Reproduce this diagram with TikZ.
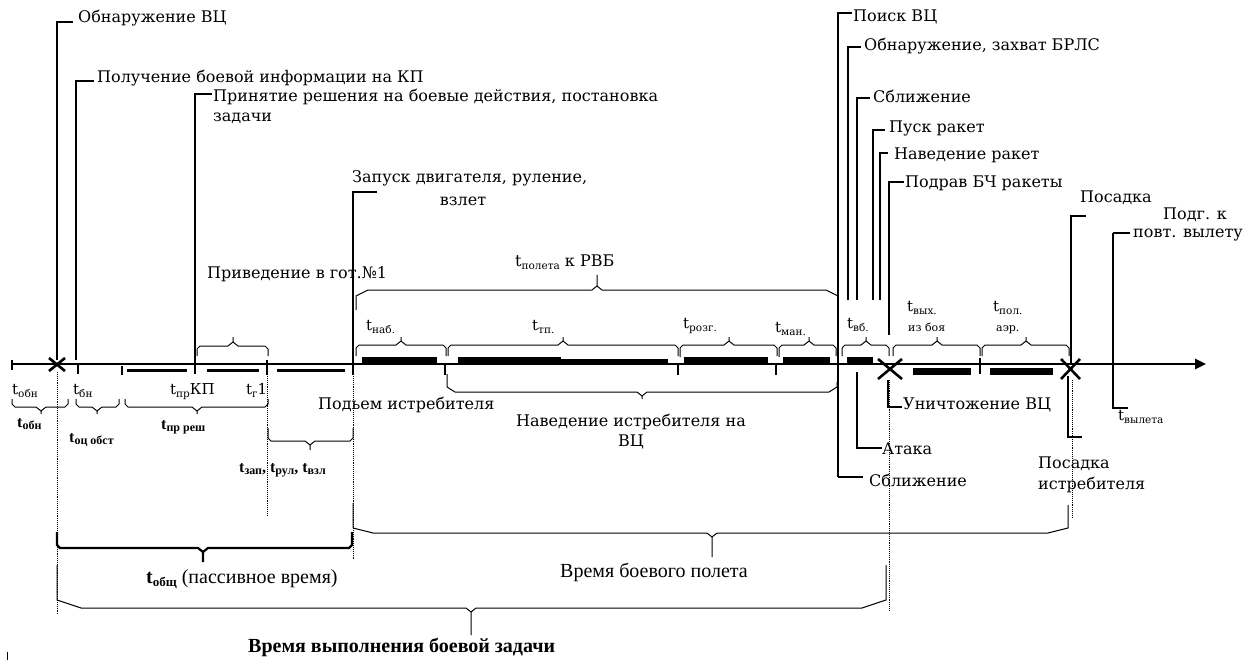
\documentclass[tikz,border=0pt]{standalone}
\usepackage{fontspec}
\setmainfont{DejaVu Serif}
\newfontfamily\tnr{Liberation Serif}
\usetikzlibrary{arrows.meta}
\newcommand\sbx[1]{\raisebox{-0.4ex}{\fontsize{10.5}{11}\selectfont #1}}
\newcommand\bsb[1]{\raisebox{-0.4ex}{\fontsize{12}{12}\selectfont #1}}
% bracket: x1 x2 y yend1 yend2 xtip ytip cornerdx cornerdy
\newcommand\brc[9]{%
 \pgfmathsetmacro\sgA{sign(#4-#3)}%
 \pgfmathsetmacro\sgB{sign(#5-#3)}%
 \draw[brst] (#1,#4) -- (#1,{#3+\sgA*#9}) -- ({#1+#8},#3) -- ({#6-5},#3) -- (#6,{#3-\sgA*4}) -- (#6,#7)
   (#6,{#3-\sgA*4}) -- ({#6+5},#3) -- ({#2-#8},#3) -- (#2,{#3+\sgB*#9}) -- (#2,#5);}
\begin{document}
\begin{tikzpicture}[x=1pt,y=-1pt,line cap=butt,
  lab/.style={inner sep=0pt,anchor=base west,font=\fontsize{16}{18}\selectfont},
  tlab/.style={inner sep=0pt,anchor=base west,font=\fontsize{15}{18}\selectfont},
  blab/.style={inner sep=0pt,anchor=base west,font=\tnr\bfseries\fontsize{16}{18}\selectfont},
  big/.style={inner sep=0pt,anchor=base west,font=\tnr\fontsize{20}{22}\selectfont},
  lead/.style={line width=1.3pt},
  brst/.style={line width=1pt},
  dotl/.style={line width=0.9pt,densely dotted},
  tick/.style={line width=2pt},
  xmark/.style={line width=2.6pt}]
\useasboundingbox (0,0) rectangle (1255,660);

% ---------------- axis ----------------
\coordinate (a0) at (12,364);
\coordinate (a1) at (1206,364);
\draw[line width=2.5pt,-{Triangle[length=11pt,width=10pt]}] (a0) -- (a1);

% ticks on axis
\foreach \x/\ya/\yb in {12/360/370,78/364/374,122/366/375,195/362/374,267/360/375,353/360/375,445/364/375,678/364/375,776/364/375,980/358/374,1113/360/370}
  \draw[tick] (\x,\ya) -- (\x,\yb);

% X marks
\draw[xmark] (49,358) -- (65,371) (49,371) -- (65,358);
\draw[xmark] (878,359) -- (902,379) (878,379) -- (902,359);
\draw[xmark] (1061,359) -- (1080,379) (1061,379) -- (1080,359);

% bars above axis
\fill (362,357) rectangle (437,364);
\fill (458,357) rectangle (561,364);
\fill (561,358.5) rectangle (668,364);
\fill (684,357) rectangle (768,364);
\fill (783,357) rectangle (830,364);
\fill (847,357) rectangle (873,364);
% bars below axis
\draw[line width=3pt] (127,370) -- (187,370) (207,370) -- (259,370) (277,370) -- (345,370);
\fill (913,368) rectangle (971,375);
\fill (990,368) rectangle (1053,375);

% ---------------- top-left leaders ----------------
\node[lab] (n1) at (78,23) {Обнаружение ВЦ};
\node[lab] (n2) at (97,83) {Получение боевой информации на КП};
\node[lab] (n3) at (213,102) {Принятие решения на боевые действия, постановка};
\node[lab] (n3b) at (213,122) {задачи};
\node[lab] (n4) at (352,183) {Запуск двигателя, руление,};
\node[lab,anchor=base] (n4b) at (463,206) {взлет};
\draw[lead] (57,360) -- (57,22) -- (73,22);
\draw[lead] (76,360) -- (76,81) -- (94,81);
\draw[lead] (195,372) -- (195,94) -- (212,94);
\draw[lead] (353,372) -- (353,192) -- (377,192);

% ---------------- top-right leaders ----------------
\node[lab] (r1) at (853,22) {Поиск ВЦ};
\node[lab] (r2) at (864,51) {Обнаружение, захват БРЛС};
\node[lab] (r3) at (873,103) {Сближение};
\node[lab] (r4) at (889,133) {Пуск ракет};
\node[lab] (r5) at (894,160) {Наведение ракет};
\node[lab] (r6) at (905,188) {Подрав БЧ ракеты};
\node[lab] (r7) at (1080,203) {Посадка};
\node[lab] (r8) at (1163,220) {Подг. к};
\node[lab] (r8b) at (1133,238) {повт. вылету};
\draw[lead] (838,477) -- (838,13) -- (852,13);
\draw[lead] (848,300) -- (848,47) -- (861,47);
\draw[lead] (857,300) -- (857,98) -- (870,98);
\draw[lead] (873,300) -- (873,130) -- (885,130);
\draw[lead] (880,300) -- (880,153) -- (888,153);
\draw[lead] (889,335) -- (889,182) -- (904,182);
\draw[lead] (1071,364) -- (1071,216) -- (1086,216);
\draw[lead] (1113,233) -- (1130,233);
\draw[lead] (1113,233) -- (1113,408) -- (1128,408);

% ---------------- brackets above axis ----------------
\node[lab] (pr) at (207,279) {Приведение в гот.№1};
\brc{197}{268}{346}{356}{356}{233}{337}{3}{3}
\node[lab] (tpol) at (515,266) {t\sbx{полета} к РВБ};
\brc{356}{838}{290}{310}{296}{597}{275}{12}{6}
\brc{356}{446}{345}{356}{356}{401}{337}{3}{3}
\brc{448}{678}{345}{356}{356}{563}{337}{3}{3}
\brc{680}{777}{345}{357}{356}{729}{337}{3}{3}
\brc{779}{836}{345}{357}{356}{809}{337}{3}{3}
\brc{842}{889}{345}{356}{356}{866}{337}{3}{3}
\brc{893}{980}{345}{356}{356}{937}{337}{3}{3}
\brc{982}{1069}{345}{356}{356}{1026}{337}{3}{3}
\node[tlab] (tnab) at (366,330) {t\sbx{наб.}};
\node[tlab] (ttp) at (532,330) {t\sbx{тп.}};
\node[tlab] (troz) at (683,328) {t\sbx{розг.}};
\node[tlab] (tman) at (775,332) {t\sbx{ман.}};
\node[tlab] (tvb) at (847,328) {t\sbx{вб.}};
\node[tlab] (tvyh) at (907,311) {t\sbx{вых.}};
\node[inner sep=0pt,anchor=base west,font=\fontsize{11}{12}\selectfont] (izb) at (908,331) {из боя};
\node[tlab] (tpl) at (993,311) {t\sbx{пол.}};
\node[inner sep=0pt,anchor=base west,font=\fontsize{11}{12}\selectfont] (aer) at (996,331) {аэр.};

% ---------------- below axis left ----------------
\node[tlab] (lb1) at (12,394) {t\sbx{обн}};
\node[tlab] (lb2) at (73,394) {t\sbx{бн}};
\node[tlab] (lb3) at (170,394) {t\sbx{пр}КП};
\node[tlab] (lb4) at (246,394) {t\sbx{г}1};
\brc{12}{68}{407}{399}{399}{41}{414}{3}{3}
\brc{76}{119}{407}{399}{399}{97}{414}{3}{3}
\brc{125}{268}{407}{399}{399}{197}{414}{3}{3}
\brc{268}{353}{441}{428}{428}{310}{450}{3}{3}
\node[blab] (bb1) at (17,427) {t\bsb{обн}};
\node[blab] (bb2) at (69,442) {t\bsb{оц обст}};
\node[blab] (bb3) at (161,429) {t\bsb{пр реш}};
\node[blab] (bb4) at (239,472) {t\bsb{зап}, t\bsb{рул}, t\bsb{взл}};

% dotted verticals
\draw[dotl] (57,372) -- (57,615);
\draw[dotl] (267.5,376) -- (267.5,515);
\draw[dotl] (353,376) -- (353,560);
\draw[dotl] (889,380) -- (889,610);
\draw[dotl] (1072.5,380) -- (1072.5,517);

% middle labels
\node[lab] (pod) at (318,409) {Подьем истребителя};
\brc{447}{837}{392}{374}{382}{642}{399}{8}{5}
\node[lab,anchor=base] (nav) at (631,426) {Наведение истребителя на};
\node[lab,anchor=base] (nav2) at (631,446) {ВЦ};

% right lower leaders
\node[lab] (un) at (903,409) {Уничтожение ВЦ};
\node[lab] (at) at (882,454) {Атака};
\node[lab] (sb) at (869,486) {Сближение};
\node[lab] (ps) at (1038,468) {Посадка};
\node[lab] (ps2) at (1038,489) {истребителя};
\node[tlab] (tvyl) at (1118,420) {t\sbx{вылета}};
\draw[lead] (838,477) -- (863,477);
\draw[lead] (857,372) -- (857,448) -- (882,448);
\draw[lead] (888,380) -- (888,407) -- (902,407);
\draw[lead] (1068,376) -- (1068,437) -- (1082,437);

% ---------------- bottom brackets ----------------
\begin{scope}[brst/.style={line width=2.2pt}]
\brc{57}{352}{548}{532}{532}{203}{562}{3}{3}
\end{scope}
\brc{353}{1068}{533}{503}{505}{712}{557}{20}{5}
\brc{57}{886}{608}{565}{565}{471}{635}{24}{8}

\node[big] (tob) at (146,583) {{\bfseries t\raisebox{-0.4ex}{\fontsize{13}{13}\selectfont общ}} (пассивное время)};
\node[big] (vbp) at (560,577) {Время боевого полета};
\node[big,font=\tnr\bfseries\fontsize{20}{22}\selectfont] (vvz) at (248,652) {Время выполнения боевой задачи};

% small mark bottom-left
\draw[line width=1pt] (7,652) -- (7,660);
\end{tikzpicture}
\end{document}
